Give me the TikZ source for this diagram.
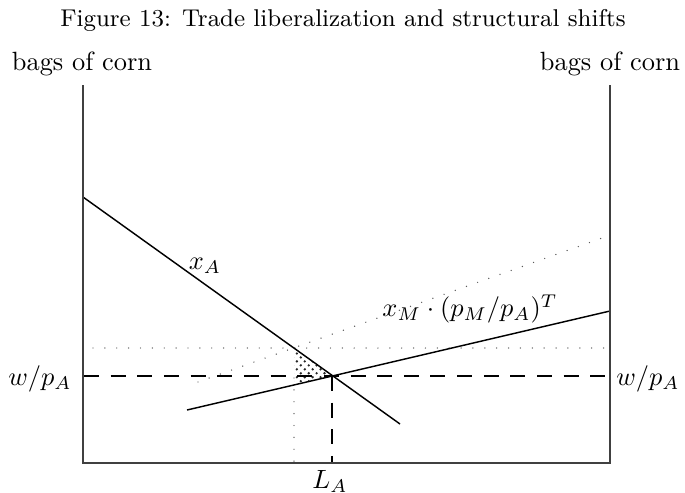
\documentclass[tikz,border=0pt]{standalone}
\usetikzlibrary{patterns}
\begin{document}
\begin{tikzpicture}[x=0.379pt,y=-0.379pt,
  axis/.style={line width=0.75pt,draw=black!75},
  curve/.style={line width=0.55pt},
  dashline/.style={line width=0.55pt,dash pattern=on 5.7pt off 4.4pt},
  dotline/.style={line width=0.55pt,draw=black!65,line cap=round,dash pattern=on 0pt off 4.5pt},
  lbl/.style={inner sep=0pt}]
\useasboundingbox (0,0) rectangle (685,492);
% title and axis labels
\node[lbl,font=\fontsize{9.2}{11}\selectfont] (title) at (343,20) {Figure 13: Trade liberalization and structural shifts};
\node[lbl] (ylab1) at (82,64) {bags of corn};
\node[lbl] (ylab2) at (610,64) {bags of corn};
% axes
\coordinate (tl) at (83,85);
\coordinate (bl) at (83,463);
\coordinate (br) at (610,463);
\coordinate (tr) at (610,85);
% shaded triangle
\coordinate (n1) at (294,348);
\coordinate (n2) at (294,385);
\coordinate (eq) at (332,376);
\fill[pattern=crosshatch dots,pattern color=black!85] (n1) -- (eq) -- (n2) -- cycle;
% dotted lines
\coordinate (dh1) at (93,348);
\coordinate (dh2) at (606,348);
\draw[dotline] (dh1) -- (dh2);
\coordinate (dv2) at (294,463);
\coordinate (dv1) at (294,378);
\draw[dotline] (dv1) -- (dv2);
\coordinate (ds1) at (198,382);
\coordinate (ds2) at (605,237);
\draw[dotline] (ds1) -- (ds2);
% dashed lines
\coordinate (wl) at (84,376);
\coordinate (wr) at (610,376);
\draw[dashline] (wl) -- (wr);
\coordinate (la) at (332,463);
\draw[dashline] (eq) -- (la);
% curves
\coordinate (xa1) at (83,197);
\coordinate (xa2) at (400,424);
\draw[curve] (xa1) -- (xa2);
\coordinate (xm1) at (187,410);
\coordinate (xm2) at (610,311);
\draw[curve] (xm1) -- (xm2);
% axes drawn on top
\draw[axis] (tl) -- (bl) -- (br) -- (tr);
% labels
\node[lbl] (xAl) at (205,266) {$x_A$};
\node[lbl] (xMl) at (470,309) {$x_M\cdot(p_M/p_A)^T$};
\node[lbl] (wpl) at (40,379) {$w/p_A$};
\node[lbl] (wpr) at (648,379) {$w/p_A$};
\node[lbl] (LA) at (330,481) {$L_A$};
\end{tikzpicture}
\end{document}
